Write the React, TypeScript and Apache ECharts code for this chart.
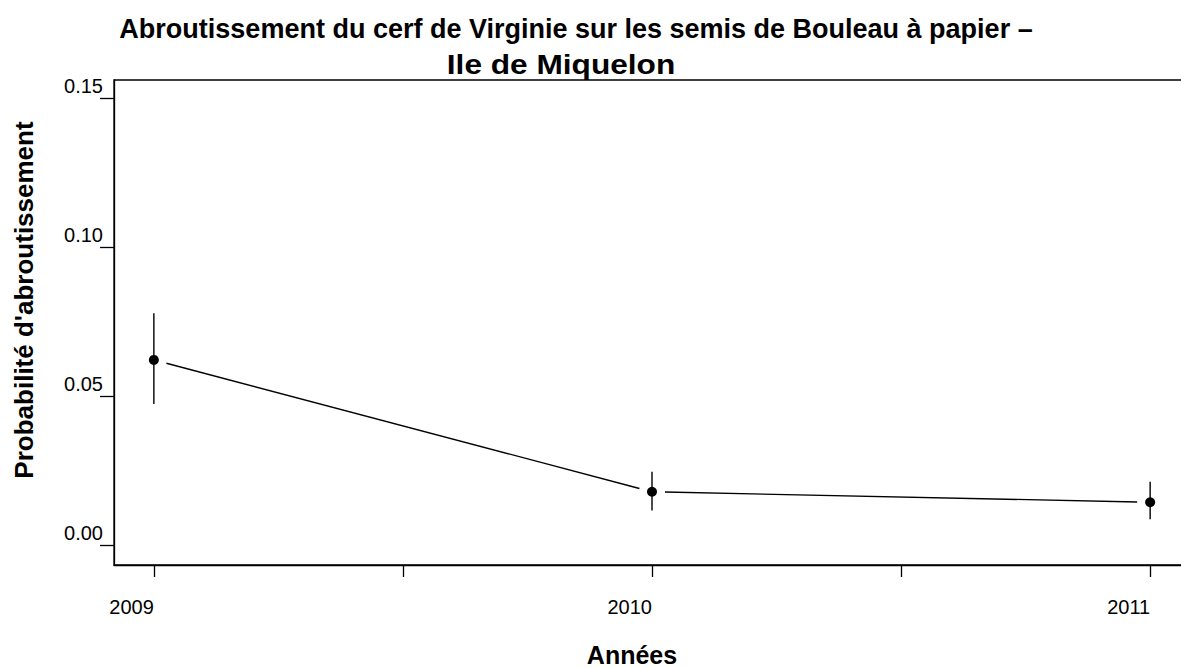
import React, { useEffect, useRef } from "react";
import * as echarts from "echarts";

const years = [2009, 2010, 2011];
const prob = [0.0622, 0.018, 0.0145];
const lower = [0.0474, 0.0117, 0.0088];
const upper = [0.0778, 0.0247, 0.0214];
const yTicks = [0, 0.05, 0.1, 0.15];
const xTicks = [2009, 2009.5, 2010, 2010.5, 2011];
const xLabels = [2009, 2010, 2011];

const titleLine1 = "Abroutissement du cerf de Virginie sur les semis de Bouleau à papier –";
const titleLine2 = "Ile de Miquelon";
const yTitle = "Probabilité d'abroutissement";
const xTitle = "Années";

export default function App() {
  const ref = useRef<HTMLDivElement>(null);
  useEffect(() => {
    const chart = echarts.init(ref.current!, null, { renderer: "svg" });
    const data = years.map((y, i) => [y, prob[i], lower[i], upper[i]]);
    const font = "Liberation Sans, Arial, sans-serif";
    chart.setOption({
      animation: false,
      backgroundColor: "#ffffff",
      graphic: [
        {
          type: "text",
          x: 576,
          y: 29,
          style: {
            text: titleLine1,
            font: `bold 27px ${font}`,
            fill: "#000",
            align: "center",
            verticalAlign: "middle",
          },
        },
        {
          type: "text",
          x: 561,
          y: 64,
          scaleX: 1.13,
          style: {
            text: titleLine2,
            font: `bold 28px ${font}`,
            fill: "#000",
            align: "center",
            verticalAlign: "middle",
          },
        },
        {
          type: "text",
          x: 24,
          y: 300,
          rotation: Math.PI / 2,
          style: {
            text: yTitle,
            font: `bold 26px ${font}`,
            fill: "#000",
            align: "center",
            verticalAlign: "middle",
          },
        },
        {
          type: "text",
          x: 632,
          y: 655,
          style: {
            text: xTitle,
            font: `bold 25px ${font}`,
            fill: "#000",
            align: "center",
            verticalAlign: "middle",
          },
        },
      ],
      grid: {
        left: 114,
        top: 80,
        width: 1076,
        height: 485,
        show: true,
        borderColor: "#000",
        borderWidth: 1.3,
        containLabel: false,
      },
      xAxis: {
        type: "value",
        min: 2008.92,
        max: 2011.08,
        axisLine: { show: true, onZero: false, lineStyle: { color: "#000", width: 1.3 } },
        axisTick: {
          show: true,
          length: 12,
          customValues: xTicks,
          lineStyle: { color: "#000", width: 1.3 },
        },
        axisLabel: {
          customValues: xLabels,
          color: "#000",
          fontSize: 20,
          fontFamily: font,
          align: "right",
          margin: 32,
          formatter: (v: number) => String(v),
        },
        splitLine: { show: false },
      },
      yAxis: {
        type: "value",
        min: -0.00654,
        max: 0.156,
        axisLine: { show: true, onZero: false, lineStyle: { color: "#000", width: 1.3 } },
        axisTick: {
          show: true,
          length: 14,
          customValues: yTicks,
          lineStyle: { color: "#000", width: 1.3 },
        },
        axisLabel: {
          customValues: yTicks,
          color: "#000",
          fontSize: 20,
          fontFamily: font,
          margin: 11,
          verticalAlign: "bottom",
          padding: [0, 0, 2, 0],
          formatter: (v: number) => v.toFixed(2),
        },
        splitLine: { show: false },
      },
      series: [
        {
          type: "custom",
          data,
          renderItem: (params: any, api: any) => {
            const i = params.dataIndex;
            const p = api.coord([api.value(0), api.value(1)]);
            const lo = api.coord([api.value(0), api.value(2)]);
            const hi = api.coord([api.value(0), api.value(3)]);
            const children: any[] = [
              {
                type: "line",
                shape: { x1: lo[0], y1: lo[1], x2: hi[0], y2: hi[1] },
                style: { stroke: "#000", lineWidth: 1.4 },
              },
              {
                type: "circle",
                shape: { cx: p[0], cy: p[1], r: 5 },
                style: { fill: "#000" },
              },
            ];
            if (i < years.length - 1) {
              const q = api.coord([years[i + 1], prob[i + 1]]);
              const dx = q[0] - p[0];
              const dy = q[1] - p[1];
              const len = Math.sqrt(dx * dx + dy * dy);
              const g = 13;
              children.push({
                type: "line",
                shape: {
                  x1: p[0] + (dx / len) * g,
                  y1: p[1] + (dy / len) * g,
                  x2: q[0] - (dx / len) * g,
                  y2: q[1] - (dy / len) * g,
                },
                style: { stroke: "#000", lineWidth: 1.4 },
              });
            }
            return { type: "group", children };
          },
        },
      ],
    });
    return () => chart.dispose();
  }, []);
  return (
    <div
      style={{
        position: "absolute",
        left: 0,
        top: 0,
        width: 1181,
        height: 668,
        overflow: "hidden",
      }}
    >
      <div ref={ref} style={{ width: 1200, height: 668 }} />
    </div>
  );
}
